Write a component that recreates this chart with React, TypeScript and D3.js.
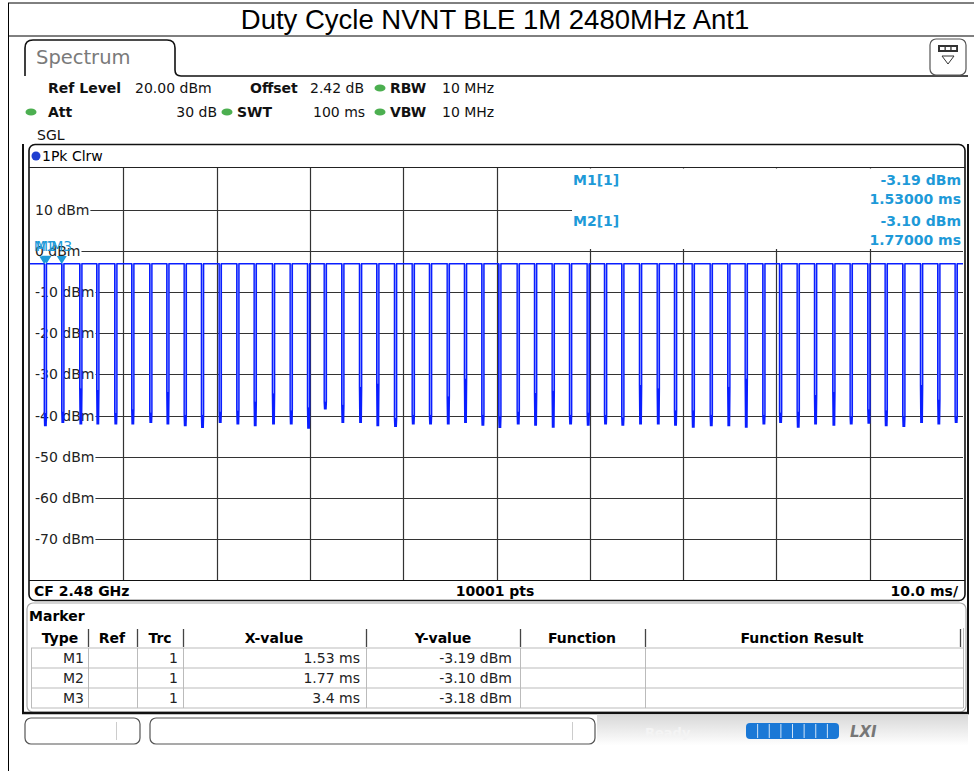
import React from 'react';
import * as d3 from 'd3';

const TITLE = 'Duty Cycle NVNT BLE 1M 2480MHz Ant1';
const yTickValues = [10, 0, -10, -20, -30, -40, -50, -60, -70];
const xGridValues = [10, 20, 30, 40, 50, 60, 70, 80, 90];
const topLevel = -3.1;
const dipWidth = 0.24;
const dipStart = [
  1.53, 3.4, 5.33, 7.15, 9.08, 10.9, 12.83, 14.66, 16.52, 18.37, 20.27, 22.16, 24.02, 25.98, 27.88, 29.74, 31.53, 33.41,
  35.31, 37.16, 39.06, 40.96, 42.81, 44.71, 46.56, 48.42, 50.24, 52.21, 54.07, 55.96, 57.82, 59.71, 61.57, 63.42, 65.32, 67.22,
  69.07, 70.97, 72.9, 74.78, 76.65, 78.54, 80.33, 82.22, 84.08, 86.04, 87.9, 89.79, 91.65, 93.54, 95.44, 97.29, 99.15,
];
const dipKnee = [
  -39.4, -39.0, -33.4, -33.8, -39.4, -38.5, -39.3, -34.2, -39.8, -39.8, -39.0, -38.8, -36.6, -34.6, -38.7, -38.0, -36.6, -37.4,
  -33.0, -32.2, -40.6, -39.8, -39.8, -35.3, -31.0, -39.8, -40.2, -39.0, -34.5, -34.0, -39.8, -39.3, -39.8, -40.4, -32.6, -33.4,
  -38.7, -38.7, -39.8, -33.0, -31.0, -39.8, -39.3, -39.0, -35.0, -34.2, -40.2, -38.5, -38.7, -40.2, -32.6, -36.1, -40.2,
];
const dipBottom = [
  -42.6, -41.8, -42.2, -42.2, -42.2, -42.2, -41.8, -42.2, -42.6, -43.0, -41.8, -42.2, -42.6, -42.2, -42.2, -43.2, -38.5, -41.8,
  -41.8, -42.6, -42.8, -42.2, -42.2, -42.2, -41.8, -42.5, -43.0, -42.2, -42.5, -43.0, -42.2, -42.5, -42.2, -42.5, -42.2, -42.2,
  -42.5, -43.0, -42.6, -42.6, -43.0, -42.2, -41.8, -43.0, -42.2, -42.5, -42.2, -42.0, -42.6, -42.8, -41.8, -42.2, -41.8,
];

const markerNames = ['M1', 'M2', 'M3'];
const markerX = [1.53, 1.77, 3.4];
const markerY = [-3.19, -3.1, -3.18];
const markerTrc = ['1', '1', '1'];
const markerXText = ['1.53 ms', '1.77 ms', '3.4 ms'];
const markerYText = ['-3.19 dBm', '-3.10 dBm', '-3.18 dBm'];
const infoLines = [
  { label: 'M1[1]', value: '-3.19 dBm', time: '1.53000 ms' },
  { label: 'M2[1]', value: '-3.10 dBm', time: '1.77000 ms' },
];
const tableHeaders = ['Type', 'Ref', 'Trc', 'X-value', 'Y-value', 'Function', 'Function Result'];

const FONT = 'DejaVu Sans, Verdana, sans-serif';
const MK = '#1e9ad8';
const TRACE = '#0a1eff';

function labelWidth(v: number, fs: number) {
  const digits = String(Math.abs(v)).length;
  return fs * (0.636 * digits + (v < 0 ? 0.361 : 0) + 0.318 + 2.295);
}

export default function App() {
  const x = d3.scaleLinear().domain([0, 100]).range([30, 963]);
  const y = d3.scaleLinear().domain([20, -80]).range([168.8, 580]);

  const pts: [number, number][] = [[0, topLevel]];
  dipStart.forEach((s, i) => {
    const k = dipKnee[i];
    const b = dipBottom[i];
    pts.push([s, topLevel], [s, k]);
    for (let j = 1; j <= 5; j++) {
      pts.push([s + (dipWidth * j) / 6, j % 2 === 1 ? b : k]);
    }
    pts.push([s + dipWidth, k], [s + dipWidth, topLevel]);
  });
  pts.push([100, topLevel]);
  const line = d3
    .line<[number, number]>()
    .x((d) => x(d[0]))
    .y((d) => y(d[1]));
  const tracePath = line(pts) || '';

  const colSep = [88, 137, 183, 366, 520, 645, 960];
  const headerCenters = [60, 112, 160, 274, 443, 582, 802];
  const rowY = [648, 668, 688, 708];

  return (
    <svg
      width={974}
      height={771}
      style={{ position: 'absolute', left: 0, top: 0, background: '#fff' }}
      fontFamily={FONT}
    >
      <rect x={0} y={0} width={974} height={771} fill="#fff" />
      {/* document frame */}
      <line x1={8} y1={3} x2={974} y2={3} stroke="#000" strokeWidth={1} />
      <line x1={8} y1={36} x2={974} y2={36} stroke="#000" strokeWidth={1} />
      <line x1={8.5} y1={3} x2={8.5} y2={771} stroke="#000" strokeWidth={1} />
      <text x={495} y={29} textAnchor="middle" fontFamily="Liberation Sans, Arial, sans-serif" fontSize={27.5} fill="#000">
        {TITLE}
      </text>

      {/* Spectrum tab */}
      <path
        d="M25,76 L25,48 Q25,40 33,40 L167,40 Q175,40 175,48 L175,70 Q175,76 181,76 L968,76"
        fill="none"
        stroke="#111"
        strokeWidth={1.6}
      />
      <text x={36} y={64} fontSize={19.5} fill="#7a7a7a">Spectrum</text>
      {/* icon */}
      <rect x={930} y={39} width={36} height={36} rx={6} fill="#fff" stroke="#555" strokeWidth={1.2} />
      <rect x={938} y={45} width={20} height={7} fill="#333" />
      <rect x={940} y={47} width={4.5} height={3} fill="#fff" />
      <rect x={945.8} y={47} width={4.5} height={3} fill="#fff" />
      <rect x={951.6} y={47} width={4.5} height={3} fill="#fff" />
      <path d="M942,56 L954,56 L948,64 Z" fill="#fff" stroke="#333" strokeWidth={1} />

      {/* settings lines */}
      <g fontSize={14} fill="#111">
        <text x={48} y={93} fontWeight="bold">Ref Level</text>
        <text x={135} y={93}>20.00 dBm</text>
        <text x={250} y={93} fontWeight="bold">Offset</text>
        <text x={310} y={93}>2.42 dB</text>
        <text x={390} y={93} fontWeight="bold">RBW</text>
        <text x={442} y={93}>10 MHz</text>
        <text x={48} y={117} fontWeight="bold">Att</text>
        <text x={217} y={117} textAnchor="end">30 dB</text>
        <text x={237} y={117} fontWeight="bold">SWT</text>
        <text x={313} y={117}>100 ms</text>
        <text x={390} y={117} fontWeight="bold">VBW</text>
        <text x={442} y={117}>10 MHz</text>
        <text x={37} y={140}>SGL</text>
      </g>
      {[
        [380, 88],
        [31, 112],
        [227, 112],
        [380, 112],
      ].map(([cx, cy], i) => (
        <ellipse key={i} cx={cx} cy={cy} rx={5.5} ry={3.6} fill="#4caf50" />
      ))}

      {/* screen borders */}
      <line x1={23} y1={144} x2={23} y2={713} stroke="#111" strokeWidth={2} />
      <line x1={968} y1={144} x2={968} y2={713} stroke="#111" strokeWidth={2} />

      {/* trace window */}
      <rect x={29} y={144.5} width={936} height={456} rx={6} fill="#fff" stroke="#111" strokeWidth={1.6} />
      <circle cx={36} cy={156} r={4.5} fill="#1f3fd0" />
      <text x={42} y={161} fontSize={14} fill="#000">1Pk Clrw</text>
      <line x1={29} y1={167.5} x2={965} y2={167.5} stroke="#222" strokeWidth={1} />

      {/* grid */}
      <g stroke="#333" strokeWidth={1.2}>
        {xGridValues.map((v) => (
          <line key={v} x1={Math.round(x(v)) + 0.5} y1={168} x2={Math.round(x(v)) + 0.5} y2={580} />
        ))}
      </g>
      {yTickValues.map((v) => {
        const label = `${v} dBm`;
        const w = labelWidth(v, 14);
        return (
          <g key={v}>
            <line x1={36 + w} y1={Math.round(y(v)) + 0.5} x2={963} y2={Math.round(y(v)) + 0.5} stroke="#333" strokeWidth={1.2} />
            <text x={35} y={y(v) + 5} fontSize={14} fill="#222">{label}</text>
          </g>
        );
      })}
      {/* marker info box */}
      <rect x={572} y={168.5} width={391} height={80.5} fill="#fff" />
      <g fontSize={14} fontWeight="bold" fill={MK}>
        {infoLines.map((l, i) => (
          <g key={l.label}>
            <text x={573} y={185 + i * 41}>{l.label}</text>
            <text x={961} y={185 + i * 41} textAnchor="end">{l.value}</text>
            <text x={961} y={204 + i * 41} textAnchor="end">{l.time}</text>
          </g>
        ))}
      </g>

      {/* trace */}
      <defs>
        <clipPath id="plotclip">
          <rect x={30} y={168} width={933} height={412} />
        </clipPath>
      </defs>
      <g clipPath="url(#plotclip)">
        {dipStart.map((s, i) => (
          <rect
            key={i}
            x={x(s)}
            y={y(topLevel)}
            width={x(s + dipWidth) - x(s)}
            height={y(dipKnee[i]) - y(topLevel)}
            fill="#8d9cff"
          />
        ))}
        <path d={tracePath} fill="none" stroke={TRACE} strokeWidth={1.4} />
      </g>

      {/* markers */}
      {markerNames.map((m, i) => {
        const mx = x(markerX[i]);
        const my = y(markerY[i]);
        return (
          <g key={m}>
            <path d={`M${mx - 5},${my - 8} L${mx + 5},${my - 8} L${mx},${my} Z`} fill={MK} />
            <text x={mx} y={my - 13} textAnchor="middle" fontSize={14} fill={MK}>{m}</text>
          </g>
        );
      })}

      {/* CF bar */}
      <line x1={29} y1={580.5} x2={965} y2={580.5} stroke="#111" strokeWidth={1.2} />
      <g fontSize={14} fontWeight="bold" fill="#000">
        <text x={34} y={596}>CF 2.48 GHz</text>
        <text x={495} y={596} textAnchor="middle">10001 pts</text>
        <text x={958} y={596} textAnchor="end">10.0 ms/</text>
      </g>

      {/* marker table */}
      <rect x={27} y={603} width={939} height={109} rx={6} fill="#fff" stroke="#aaa" strokeWidth={1.2} />
      <text x={29} y={621} fontSize={14} fontWeight="bold" fill="#000">Marker</text>
      <g stroke="#bbb" strokeWidth={1}>
        <line x1={31} y1={648} x2={963} y2={648} />
        {rowY.slice(1).map((ry) => (
          <line key={ry} x1={31} y1={ry} x2={963} y2={ry} />
        ))}
        <line x1={31.5} y1={648} x2={31.5} y2={708} />
        <line x1={963.5} y1={628} x2={963.5} y2={708} />
        {colSep.slice(0, 6).map((cx) => (
          <line key={cx} x1={cx + 0.5} y1={648} x2={cx + 0.5} y2={708} />
        ))}
      </g>
      <g stroke="#444" strokeWidth={1.3}>
        {colSep.map((cx) => (
          <line key={cx} x1={cx + 0.5} y1={629} x2={cx + 0.5} y2={647} />
        ))}
      </g>
      <g fontSize={14} fontWeight="bold" fill="#000">
        {tableHeaders.map((h, i) => (
          <text key={h} x={headerCenters[i]} y={643} textAnchor="middle">{h}</text>
        ))}
      </g>
      <g fontSize={14} fill="#222">
        {markerNames.map((m, i) => (
          <g key={m}>
            <text x={84} y={663 + i * 20} textAnchor="end">{m}</text>
            <text x={178} y={663 + i * 20} textAnchor="end">{markerTrc[i]}</text>
            <text x={360} y={663 + i * 20} textAnchor="end">{markerXText[i]}</text>
            <text x={512} y={663 + i * 20} textAnchor="end">{markerYText[i]}</text>
          </g>
        ))}
      </g>

      {/* status bar */}
      <defs>
        <linearGradient id="sbv" x1="0" x2="0" y1="0" y2="1">
          <stop offset="0" stopColor="#d8d8d8" />
          <stop offset="1" stopColor="#ffffff" />
        </linearGradient>
      </defs>
      <line x1={22} y1={713} x2={969} y2={713} stroke="#111" strokeWidth={2.5} />
      <rect x={597} y={714.5} width={371} height={31} fill="url(#sbv)" />
      <rect x={25} y={718} width={115} height={26} rx={6} fill="#fff" stroke="#555" strokeWidth={1.2} />
      <line x1={116.5} y1={722} x2={116.5} y2={740} stroke="#ccc" />
      <rect x={150} y={718} width={445} height={26} rx={6} fill="#fff" stroke="#555" strokeWidth={1.2} />
      <line x1={572.5} y1={722} x2={572.5} y2={740} stroke="#ccc" />
      <text x={645} y={737} fontSize={13} fontWeight="bold" fill="#f4f4f4">Ready</text>
      <rect x={746} y={723} width={93} height={16} rx={4} fill="#1a78d6" />
      {d3.range(1, 8).map((k) => (
        <line key={k} x1={746 + (93 * k) / 8} y1={724} x2={746 + (93 * k) / 8} y2={738} stroke="#cfe3f7" strokeWidth={1} />
      ))}
      <text x={850} y={737} fontSize={15} fontWeight="bold" fontStyle="italic" fill="#777">LXI</text>
    </svg>
  );
}
